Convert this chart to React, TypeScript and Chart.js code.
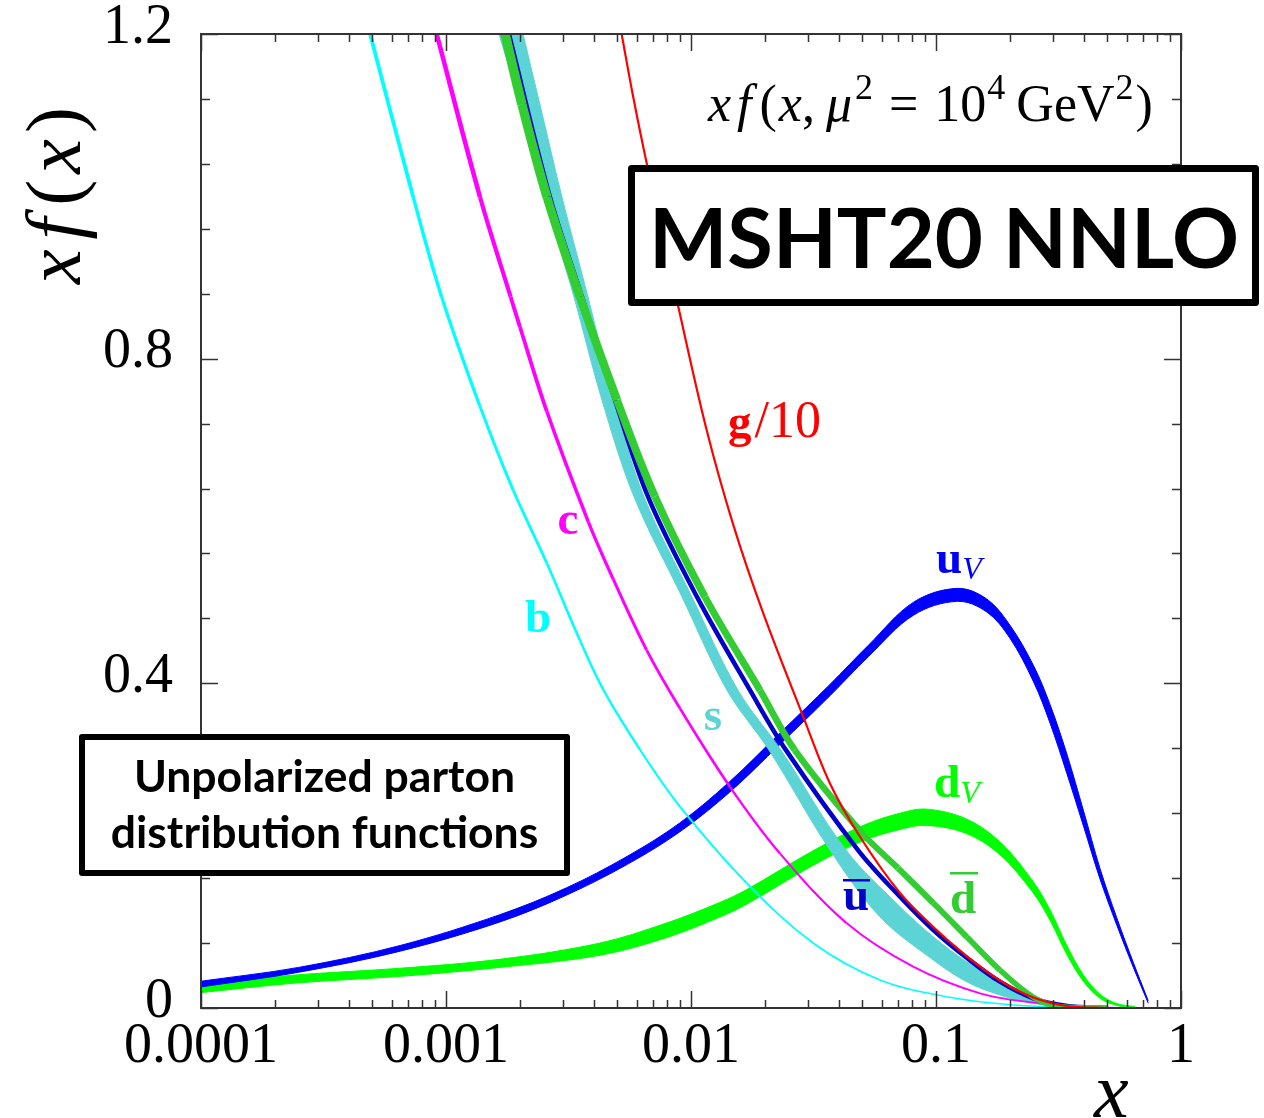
import React, { useEffect, useRef } from 'react';
import { Chart, registerables } from 'chart.js';

Chart.register(...registerables);

// ---------------- axis ticks ----------------
const xTickValues = [0.0001, 0.001, 0.01, 0.1, 1];
const xTickLabels = ['0.0001', '0.001', '0.01', '0.1', '1'];
const yTickValues = [0, 0.4, 0.8, 1.2];
const yTickLabels = ['0', '0.4', '0.8', '1.2'];
const yMinorStep = 0.08;

// ---------------- u_V band ----------------
const uvX = [0.0001, 0.00025, 0.00065, 0.00166, 0.0031, 0.0055, 0.009, 0.0144, 0.0231, 0.037, 0.053, 0.081, 0.122, 0.161, 0.2, 0.25, 0.292, 0.342, 0.4, 0.467, 0.547, 0.639, 0.735];
const uvHi = [0.033, 0.050, 0.077, 0.115, 0.148, 0.187, 0.228, 0.279, 0.339, 0.399, 0.447, 0.500, 0.517, 0.504, 0.472, 0.422, 0.374, 0.313, 0.243, 0.172, 0.111, 0.056, 0.009];
const uvLo = [0.026, 0.044, 0.070, 0.106, 0.139, 0.177, 0.217, 0.266, 0.325, 0.385, 0.433, 0.484, 0.501, 0.488, 0.456, 0.402, 0.351, 0.289, 0.224, 0.159, 0.102, 0.050, 0.006];

// ---------------- d_V band ----------------
const dvX = [0.0001, 0.00025, 0.00065, 0.00166, 0.00425, 0.008, 0.0131, 0.0169, 0.0316, 0.0505, 0.0713, 0.0916, 0.133, 0.182, 0.249, 0.292, 0.342, 0.399, 0.467, 0.547, 0.649];
const dvHi = [0.030, 0.041, 0.049, 0.060, 0.080, 0.105, 0.130, 0.146, 0.194, 0.225, 0.240, 0.245, 0.233, 0.205, 0.156, 0.121, 0.077, 0.041, 0.017, 0.0055, 0.0018];
const dvLo = [0.019, 0.031, 0.039, 0.050, 0.065, 0.087, 0.112, 0.128, 0.176, 0.206, 0.220, 0.225, 0.215, 0.189, 0.142, 0.108, 0.066, 0.033, 0.012, 0.0031, 0.0006];

// ---------------- s band (upper / lower edges) ----------------
const sHiX = [0.001645, 0.002062, 0.002396, 0.002975, 0.003798, 0.00485, 0.006429, 0.01009, 0.01555, 0.0233, 0.04292, 0.0713, 0.0975, 0.1333, 0.1823, 0.2495, 0.344, 0.467];
const sHiY = [1.32, 1.2, 1.118, 0.999, 0.876, 0.749, 0.630, 0.5065, 0.3916, 0.3177, 0.1946, 0.1248, 0.0878, 0.057, 0.0324, 0.0139, 0.0025, 0];
const sLoX = [0.001645, 0.001986, 0.002536, 0.00333, 0.004331, 0.005852, 0.00919, 0.01402, 0.02082, 0.03692, 0.059, 0.0975, 0.1333, 0.1823, 0.2495, 0.344, 0.467];
const sLoY = [1.2, 1.118, 0.999, 0.876, 0.749, 0.630, 0.5065, 0.3916, 0.3177, 0.1946, 0.1124, 0.0591, 0.0324, 0.016, 0.0058, 0.0018, 0];

// ---------------- ubar ----------------
const ubarX = [0.001807, 0.002657, 0.00359, 0.004895, 0.006677, 0.01058, 0.01741, 0.02442, 0.04804, 0.0713, 0.0975, 0.1338, 0.1823, 0.2494, 0.344, 0.5];
const ubarY = [1.2, 0.999, 0.876, 0.749, 0.630, 0.5065, 0.3916, 0.3177, 0.1946, 0.137, 0.0961, 0.0616, 0.0324, 0.0119, 0.0025, 0];

// ---------------- dbar ----------------
const dbarX = [0.001742, 0.002043, 0.002584, 0.003523, 0.004989, 0.007127, 0.0114, 0.01912, 0.02653, 0.04989, 0.06997, 0.0975, 0.1338, 0.1823, 0.2494, 0.3206, 0.5];
const dbarY = [1.2, 1.113, 0.999, 0.876, 0.749, 0.630, 0.5065, 0.3916, 0.3177, 0.2155, 0.1724, 0.1293, 0.0874, 0.0468, 0.0135, 0.0016, 0];

// ---------------- g/10 ----------------
const gX = [0.00521, 0.00581, 0.0066, 0.00888, 0.01159, 0.01489, 0.01973, 0.02873, 0.03692, 0.04895, 0.0713, 0.0975, 0.1333, 0.1823, 0.2494, 0.3416, 0.5];
const gY = [1.2, 1.1223, 1.0403, 0.8637, 0.7118, 0.5950, 0.4861, 0.3587, 0.2767, 0.211, 0.1416, 0.0998, 0.064, 0.0339, 0.0129, 0.0025, 0];

// ---------------- c ----------------
const cX = [0.000916, 0.001377, 0.001836, 0.002004, 0.00258, 0.00381, 0.00482, 0.00659, 0.00902, 0.01442, 0.02306, 0.04325, 0.0807, 0.1514, 0.2654, 0.45, 0.7];
const cY = [1.2, 0.999, 0.876, 0.839, 0.735, 0.599, 0.528, 0.441, 0.369, 0.2725, 0.1905, 0.1043, 0.0509, 0.0181, 0.0058, 0.001, 0];

// ---------------- b ----------------
const bX = [0.00049, 0.000735, 0.00096, 0.001377, 0.00188, 0.00258, 0.00352, 0.00439, 0.0062, 0.00902, 0.01686, 0.0316, 0.059, 0.1107, 0.207, 0.4, 0.65];
const bY = [1.2, 0.999, 0.876, 0.741, 0.638, 0.548, 0.453, 0.392, 0.318, 0.248, 0.154, 0.0797, 0.0345, 0.0139, 0.0037, 0.0005, 0];

const COL = {
  uv: '#0000ff',
  dv: '#00ff00',
  s: '#5cd3d5',
  ubar: '#0000c8',
  dbar: '#33cc33',
  g: '#ff0000',
  c: '#ff00ff',
  b: '#00ffff',
};

const pts = (xs: number[], ys: number[]) => xs.map((x, i) => ({ x, y: ys[i] }));

const base = {
  pointRadius: 0,
  pointHoverRadius: 0,
  tension: 0.35,
  clip: 0,
  fill: false as any,
};

type Run = { t: string; font: string; dx?: number; dy?: number };
function drawRuns(ctx: CanvasRenderingContext2D, runs: Run[], x: number, y: number) {
  let cx = x;
  for (const r of runs) {
    ctx.font = r.font;
    cx += r.dx ?? 0;
    ctx.fillText(r.t, cx, y + (r.dy ?? 0));
    cx += ctx.measureText(r.t).width;
  }
  return cx;
}

const SERIF = '"Liberation Serif", "DejaVu Serif", serif';
const SANS = 'Lato, "Open Sans", "Noto Sans", sans-serif';

const frameTicks = {
  id: 'frameTicks',
  afterDatasetsDraw(chart: any) {
    const { ctx, chartArea: a, scales } = chart;
    const xs = scales.x;
    const ys = scales.y;
    ctx.save();
    ctx.strokeStyle = '#333';
    ctx.lineWidth = 1.5;
    ctx.beginPath();
    for (const dec of xTickValues) {
      for (let m = 1; m <= 9; m++) {
        const v = dec * m;
        if (v > 1.0000001) break;
        const px = Math.round(xs.getPixelForValue(v)) + 0.5;
        const len = m === 1 ? 17 : 8;
        ctx.moveTo(px, a.bottom);
        ctx.lineTo(px, a.bottom - len);
        ctx.moveTo(px, a.top);
        ctx.lineTo(px, a.top + len);
      }
    }
    const nMinor = Math.round(1.2 / yMinorStep);
    for (let k = 0; k <= nMinor; k++) {
      const v = k * yMinorStep;
      const py = Math.round(ys.getPixelForValue(v)) + 0.5;
      const len = k % 5 === 0 ? 17 : 9;
      ctx.moveTo(a.left, py);
      ctx.lineTo(a.left + len, py);
      ctx.moveTo(a.right, py);
      ctx.lineTo(a.right - len, py);
    }
    ctx.stroke();
    ctx.lineWidth = 2;
    ctx.strokeRect(a.left, a.top, a.right - a.left, a.bottom - a.top);
    ctx.restore();
  },
};

const overlay = {
  id: 'overlay',
  afterDraw(chart: any) {
    const ctx: CanvasRenderingContext2D = chart.ctx;
    ctx.save();
    ctx.textBaseline = 'alphabetic';
    ctx.textAlign = 'left';

    // equation label
    ctx.fillStyle = '#000';
    const I = `italic 52px ${SERIF}`;
    const R = `52px ${SERIF}`;
    const S = `36px ${SERIF}`;
    drawRuns(ctx, [
      { t: 'x', font: I },
      { t: 'f', font: I, dx: 6 },
      { t: '(', font: R, dx: 8 },
      { t: 'x', font: I, dx: 2 },
      { t: ',', font: R },
      { t: 'μ', font: I, dx: 11 },
      { t: '2', font: S, dx: 3, dy: -22 },
      { t: '=', font: R, dx: 16 },
      { t: '1', font: R, dx: 16 },
      { t: '0', font: R },
      { t: '4', font: S, dx: 1, dy: -22 },
      { t: 'G', font: R, dx: 11 },
      { t: 'e', font: R },
      { t: 'V', font: R },
      { t: '2', font: S, dx: 1, dy: -22 },
      { t: ')', font: R, dx: 2 },
    ], 708, 121);

    // axis titles
    const T = 78;
    ctx.fillStyle = '#000';
    ctx.font = `italic ${T}px ${SERIF}`;
    ctx.fillText('x', 1094, 1117);
    ctx.save();
    ctx.translate(80, 284);
    ctx.rotate(-Math.PI / 2);
    drawRuns(ctx, [
      { t: 'x', font: `italic ${T}px ${SERIF}` },
      { t: 'f', font: `italic ${T}px ${SERIF}`, dx: 10 },
      { t: '(', font: `${T}px ${SERIF}`, dx: 12 },
      { t: 'x', font: `italic ${T}px ${SERIF}`, dx: 6 },
      { t: ')', font: `${T}px ${SERIF}`, dx: 6 },
    ], 0, 0);
    ctx.restore();

    // curve labels
    const B = `bold 47px ${SERIF}`;
    const L = `52px ${SERIF}`;
    const SV = `italic 32px ${SERIF}`;
    ctx.fillStyle = COL.g;
    drawRuns(ctx, [{ t: 'g', font: B }, { t: '/10', font: L, dx: 3 }], 728, 437);
    ctx.textAlign = 'center';
    ctx.font = B;
    ctx.fillStyle = COL.c;
    ctx.fillText('c', 568, 534);
    ctx.fillStyle = COL.b;
    ctx.fillText('b', 538, 632);
    ctx.fillStyle = COL.s;
    ctx.fillText('s', 713, 730);
    ctx.textAlign = 'left';
    ctx.fillStyle = COL.uv;
    drawRuns(ctx, [{ t: 'u', font: B }, { t: 'V', font: SV, dy: 6 }], 936, 573);
    ctx.fillStyle = COL.dv;
    drawRuns(ctx, [{ t: 'd', font: B }, { t: 'V', font: SV, dy: 6 }], 934, 797);
    ctx.fillStyle = COL.ubar;
    ctx.font = B;
    ctx.fillText('u', 843, 910);
    ctx.fillRect(843, 879, 27, 2.5);
    ctx.fillStyle = COL.dbar;
    ctx.fillText('d', 950, 913);
    ctx.fillRect(950, 872, 28, 2.5);

    // MSHT box
    ctx.fillStyle = '#fff';
    ctx.fillRect(628, 165, 631, 141);
    ctx.strokeStyle = '#000';
    ctx.lineWidth = 7;
    ctx.lineJoin = 'round';
    ctx.strokeRect(631.5, 168.5, 624, 134);
    ctx.fillStyle = '#000';
    ctx.textAlign = 'center';
    ctx.font = `bold 83px ${SANS}`;
    ctx.fillText('MSHT20 NNLO', 944, 268);

    // Unpolarized box
    ctx.fillStyle = '#fff';
    ctx.fillRect(79, 734, 491, 142);
    ctx.strokeStyle = '#000';
    ctx.lineWidth = 6;
    ctx.strokeRect(82, 737, 485, 136);
    ctx.fillStyle = '#000';
    ctx.font = `bold 44.5px ${SANS}`;
    ctx.fillText('Unpolarized parton', 324.5, 792);
    ctx.fillText('distribution functions', 324.5, 848);
    ctx.restore();
  },
};

export default function App() {
  const ref = useRef<HTMLCanvasElement | null>(null);
  useEffect(() => {
    if (!ref.current) return;
    const band = (hiX: number[], hiY: number[], loX: number[], loY: number[], color: string, order: number) => [
      { ...base, data: pts(hiX, hiY), borderColor: color, borderWidth: 1, order },
      { ...base, data: pts(loX, loY), borderColor: color, borderWidth: 1, backgroundColor: color, fill: '-1', order },
    ];
    const datasets: any[] = [
      ...band(dvX, dvHi, dvX, dvLo, COL.dv, 9),
      ...band(uvX, uvHi, uvX, uvLo, COL.uv, 8),
      ...band(sHiX, sHiY, sLoX, sLoY, COL.s, 7),
      {
        ...base, data: pts(cX, cY), borderColor: COL.c, order: 6,
        segment: { borderWidth: (c: any) => 1.8 + 2.5 * Math.max(0, (c.p0.parsed.y + c.p1.parsed.y) / 2) },
      },
      {
        ...base, data: pts(bX, bY), borderColor: COL.b, order: 5,
        segment: { borderWidth: (c: any) => 1.6 + 2 * Math.max(0, (c.p0.parsed.y + c.p1.parsed.y) / 2) },
      },
      { ...base, data: pts(ubarX, ubarY), borderColor: COL.ubar, borderWidth: 4.5, order: 4 },
      {
        ...base, data: pts(dbarX, dbarY), borderColor: COL.dbar, order: 3,
        segment: { borderWidth: (c: any) => 5.5 + 3.5 * Math.max(0, (c.p0.parsed.y + c.p1.parsed.y) / 2) },
      },
      { ...base, data: pts(gX, gY), borderColor: COL.g, borderWidth: 2.2, order: 2 },
    ];

    const chart = new Chart(ref.current, {
      type: 'line',
      data: { datasets },
      options: {
        animation: false,
        responsive: false,
        devicePixelRatio: 1,
        events: [],
        layout: { padding: { left: 0, top: 34, right: 83, bottom: 0 } },
        plugins: { legend: { display: false }, tooltip: { enabled: false } },
        scales: {
          x: {
            type: 'logarithmic',
            min: 0.0001,
            max: 1,
            afterBuildTicks: (s: any) => { s.ticks = xTickValues.map((v) => ({ value: v, major: true })); },
            afterFit: (s: any) => { s.height = 110; s.paddingLeft = 0; s.paddingRight = 0; },
            grid: { display: false },
            border: { display: false },
            ticks: {
              autoSkip: false,
              maxRotation: 0,
              padding: 3,
              color: '#000',
              font: { family: SERIF, size: 56, lineHeight: 1 },
              callback: (_v: any, i: number) => xTickLabels[i],
            },
          },
          y: {
            type: 'linear',
            min: 0,
            max: 1.2,
            afterBuildTicks: (s: any) => { s.ticks = yTickValues.map((v) => ({ value: v })); },
            afterFit: (s: any) => { s.width = 201; s.paddingTop = 0; s.paddingBottom = 0; },
            grid: { display: false },
            border: { display: false },
            ticks: {
              autoSkip: false,
              padding: 20,
              labelOffset: -6,
              color: '#000',
              font: { family: SERIF, size: 56, lineHeight: 1 },
              callback: (_v: any, i: number) => yTickLabels[i],
            },
          },
        },
      } as any,
      plugins: [frameTicks, overlay],
    });
    return () => chart.destroy();
  }, []);

  return (
    <div style={{ position: 'absolute', left: 0, top: 0, width: 1264, height: 1118, background: '#fff' }}>
      <canvas ref={ref} width={1264} height={1118} style={{ display: 'block', width: 1264, height: 1118 }} />
    </div>
  );
}
